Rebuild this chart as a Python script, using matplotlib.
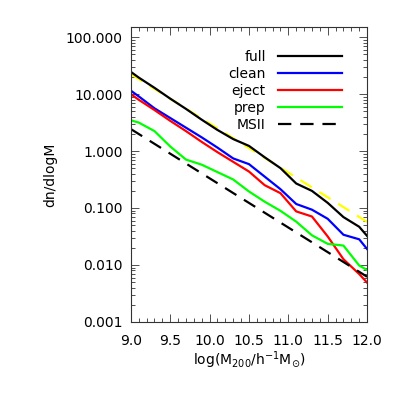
import numpy as np
import matplotlib
matplotlib.use('Agg')
import matplotlib.pyplot as plt
from matplotlib.ticker import FixedLocator, MultipleLocator, FormatStrFormatter

# log10 halo mass grid
mass = [9.0, 9.1, 9.3, 9.5, 9.7, 9.9, 10.1, 10.3, 10.5, 10.7, 10.9, 11.1, 11.3, 11.5, 11.7, 11.9, 12.0]

# log10(dn/dlogM)
log_full = [1.39, 1.29, 1.11, 0.92, 0.74, 0.55, 0.37, 0.21, 0.09, -0.11, -0.30, -0.57, -0.70, -0.91, -1.16, -1.33, -1.49]
log_clean = [1.06, 0.96, 0.75, 0.58, 0.41, 0.24, 0.06, -0.13, -0.23, -0.45, -0.67, -0.93, -1.03, -1.19, -1.47, -1.55, -1.72]
log_eject = [1.00, 0.90, 0.72, 0.53, 0.35, 0.16, -0.02, -0.19, -0.36, -0.60, -0.74, -1.06, -1.15, -1.50, -1.90, -2.16, -2.31]
log_prep = [0.54, 0.50, 0.35, 0.08, -0.15, -0.24, -0.37, -0.50, -0.71, -0.89, -1.05, -1.24, -1.48, -1.63, -1.66, -2.01, -2.09]

# power-law fits
fit_x = [9.0, 12.0]
msii_y = [2.43, 0.0062]
yellow_y = [22.4, 0.057]

plt.rcParams['font.family'] = 'DejaVu Sans'
plt.rcParams['font.size'] = 10

fig = plt.figure(figsize=(3.93, 3.93), dpi=100)
ax = fig.add_axes([0.333, 0.181, 0.601, 0.750])

lw = 1.6
ax.plot(fit_x, yellow_y, color='yellow', lw=lw, dashes=(6, 4))
ax.plot(mass, 10 ** np.array(log_full), color='black', lw=lw, label='full')
ax.plot(mass, 10 ** np.array(log_clean), color='blue', lw=lw, label='clean')
ax.plot(mass, 10 ** np.array(log_eject), color='red', lw=lw, label='eject')
ax.plot(mass, 10 ** np.array(log_prep), color='#00ff00', lw=lw, label='prep')
ax.plot(fit_x, msii_y, color='black', lw=lw, dashes=(6, 4), label='MSII')

ax.set_yscale('log')
ax.set_xlim(9.0, 12.0)
ax.set_ylim(0.001, 150)
ax.xaxis.set_major_locator(MultipleLocator(0.5))
ax.xaxis.set_minor_locator(MultipleLocator(0.1))
ax.xaxis.set_major_formatter(FormatStrFormatter('%.1f'))
ax.yaxis.set_major_locator(FixedLocator([0.001, 0.01, 0.1, 1, 10, 100]))
ax.yaxis.set_major_formatter(FormatStrFormatter('%.3f'))
ax.tick_params(which='both', direction='in', top=True, right=True, width=0.6, color='#333333')
ax.tick_params(which='major', length=6, pad=6)
ax.tick_params(axis='x', which='major', pad=9)
ax.tick_params(which='minor', length=3)
for s in ax.spines.values():
    s.set_linewidth(0.8)
    s.set_color('#333333')

ax.set_xlabel(r'log(M$_{200}$/h$^{-1}$M$_{\odot}$)', labelpad=1)
ax.set_ylabel('dn/dlogM', labelpad=6)

ax.legend(loc='upper right', bbox_to_anchor=(0.894, 0.924), markerfirst=False, frameon=False,
          handlelength=4.6, handletextpad=0.9, labelspacing=0.22, borderpad=0, borderaxespad=0)

fig.savefig('out.png', dpi=100)
